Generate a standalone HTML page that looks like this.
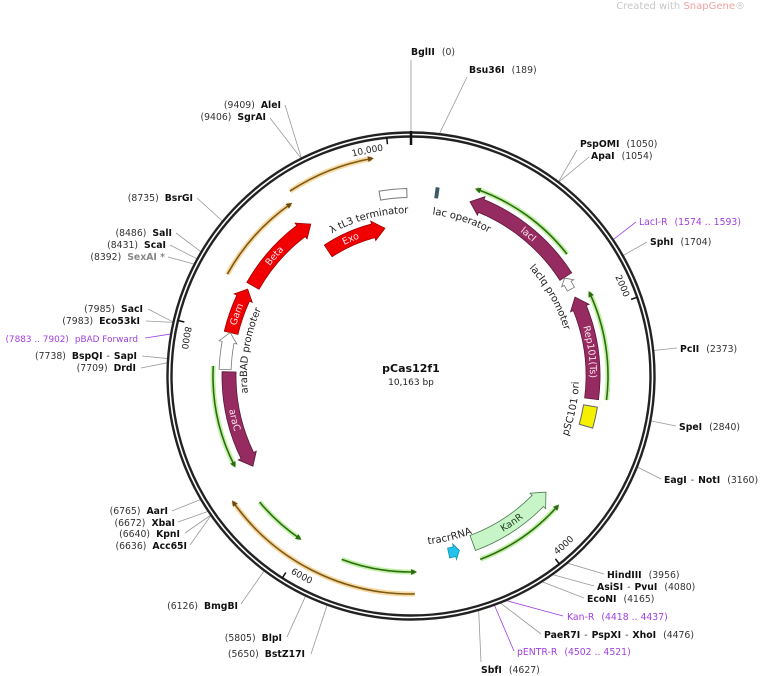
<!DOCTYPE html>
<html><head><meta charset="utf-8"><style>
html,body{margin:0;padding:0;background:#fff;}
svg{display:block;font-family:"DejaVu Sans","Liberation Sans",sans-serif;}
.n{font-weight:bold;fill:#111;font-size:9.3px}
.p{fill:#333;font-size:9.3px}
.pu{fill:#a040e0;font-size:9.3px}
.fl{font-size:10px;fill:#222}
.il{font-size:9.5px;fill:#ffe4ec}
</style></head><body>
<svg id="s" width="760" height="676" viewBox="0 0 760 676" xmlns="http://www.w3.org/2000/svg" xmlns:xlink="http://www.w3.org/1999/xlink">
<defs>
<marker id="mg" markerWidth="6" markerHeight="6" refX="4" refY="3" orient="auto" markerUnits="userSpaceOnUse"><path d="M0,0 L6,3 L0,6 z" fill="#2e6a10"/></marker>
<marker id="mo" markerWidth="6" markerHeight="6" refX="4" refY="3" orient="auto" markerUnits="userSpaceOnUse"><path d="M0,0 L6,3 L0,6 z" fill="#6a4a10"/></marker>
<path id="t_beta"/><path id="t_gam"/><path id="t_exo"/><path id="t_laci"/><path id="t_rep"/><path id="t_arac"/><path id="t_kanr"/>
<path id="t_ltl3"/><path id="t_lacop"/><path id="t_arabad"/><path id="t_laciq"/><path id="t_psc"/><path id="t_tracr"/>
<path id="k10"/><path id="k2"/><path id="k4"/><path id="k6"/><path id="k8"/>
</defs>
<g id="g"></g>
<text x="745" y="9" text-anchor="end" font-size="10" fill="#c8c8c8">Created with <tspan fill="#f0a0a0">SnapGene</tspan>®</text>

<text x="411" y="372" text-anchor="middle" font-weight="bold" font-size="11" fill="#111">pCas12f1</text>
<text x="411" y="385" text-anchor="middle" font-size="9" fill="#222">10,163 bp</text>

<text class="il" dominant-baseline="central"><textPath href="#t_beta" xlink:href="#t_beta" startOffset="50%" text-anchor="middle">Beta</textPath></text>
<text class="il" dominant-baseline="central"><textPath href="#t_gam" xlink:href="#t_gam" startOffset="50%" text-anchor="middle">Gam</textPath></text>
<text class="il" dominant-baseline="central"><textPath href="#t_exo" xlink:href="#t_exo" startOffset="50%" text-anchor="middle">Exo</textPath></text>
<text class="il" dominant-baseline="central"><textPath href="#t_laci" xlink:href="#t_laci" startOffset="50%" text-anchor="middle">lacI</textPath></text>
<text class="il" dominant-baseline="central"><textPath href="#t_rep" xlink:href="#t_rep" startOffset="50%" text-anchor="middle">Rep101(Ts)</textPath></text>
<text class="il" dominant-baseline="central"><textPath href="#t_arac" xlink:href="#t_arac" startOffset="50%" text-anchor="middle">araC</textPath></text>
<text class="il" dominant-baseline="central" style="fill:#1d4020"><textPath href="#t_kanr" xlink:href="#t_kanr" startOffset="50%" text-anchor="middle">KanR</textPath></text>
<text class="fl" dominant-baseline="central"><textPath href="#t_ltl3" xlink:href="#t_ltl3" startOffset="50%" text-anchor="middle">λ tL3 terminator</textPath></text>
<text class="fl" dominant-baseline="central"><textPath href="#t_lacop" xlink:href="#t_lacop" startOffset="50%" text-anchor="middle">lac operator</textPath></text>
<text class="fl" dominant-baseline="central"><textPath href="#t_arabad" xlink:href="#t_arabad" startOffset="50%" text-anchor="middle">araBAD promoter</textPath></text>
<text class="fl" dominant-baseline="central"><textPath href="#t_laciq" xlink:href="#t_laciq" startOffset="50%" text-anchor="middle">lacIq promoter</textPath></text>
<text class="fl" dominant-baseline="central"><textPath href="#t_psc" xlink:href="#t_psc" startOffset="50%" text-anchor="middle">pSC101 ori</textPath></text>
<text class="fl" dominant-baseline="central"><textPath href="#t_tracr" xlink:href="#t_tracr" startOffset="50%" text-anchor="middle">tracrRNA</textPath></text>
<text font-size="9" fill="#222" dominant-baseline="central"><textPath href="#k10" xlink:href="#k10" startOffset="100%" text-anchor="end">10,000</textPath></text>
<text font-size="9" fill="#222" dominant-baseline="central"><textPath href="#k2" xlink:href="#k2" startOffset="100%" text-anchor="end">2000</textPath></text>
<text font-size="9" fill="#222" dominant-baseline="central"><textPath href="#k4" xlink:href="#k4" startOffset="0%">4000</textPath></text>
<text font-size="9" fill="#222" dominant-baseline="central"><textPath href="#k6" xlink:href="#k6" startOffset="0%">6000</textPath></text>
<text font-size="9" fill="#222" dominant-baseline="central"><textPath href="#k8" xlink:href="#k8" startOffset="0%">8000</textPath></text>

<g>
<text x="411" y="55"><tspan class="n">BglII</tspan><tspan class="p" dx="7">(0)</tspan></text>
<text x="469" y="73"><tspan class="n">Bsu36I</tspan><tspan class="p" dx="7">(189)</tspan></text>
<text x="580" y="147"><tspan class="n">PspOMI</tspan><tspan class="p" dx="7">(1050)</tspan></text>
<text x="591" y="159"><tspan class="n">ApaI</tspan><tspan class="p" dx="7">(1054)</tspan></text>
<text x="639" y="225" class="pu">LacI-R<tspan dx="7">(1574 .. 1593)</tspan></text>
<text x="650" y="245"><tspan class="n">SphI</tspan><tspan class="p" dx="7">(1704)</tspan></text>
<text x="680" y="352"><tspan class="n">PcII</tspan><tspan class="p" dx="7">(2373)</tspan></text>
<text x="679" y="430"><tspan class="n">SpeI</tspan><tspan class="p" dx="7">(2840)</tspan></text>
<text x="664" y="483"><tspan class="n">EagI</tspan><tspan class="p" dx="4">-</tspan><tspan class="n" dx="4">NotI</tspan><tspan class="p" dx="7">(3160)</tspan></text>
<text x="607" y="578"><tspan class="n">HindIII</tspan><tspan class="p" dx="7">(3956)</tspan></text>
<text x="597" y="590"><tspan class="n">AsiSI</tspan><tspan class="p" dx="4">-</tspan><tspan class="n" dx="4">PvuI</tspan><tspan class="p" dx="7">(4080)</tspan></text>
<text x="587" y="602"><tspan class="n">EcoNI</tspan><tspan class="p" dx="7">(4165)</tspan></text>
<text x="567" y="620" class="pu">Kan-R<tspan dx="7">(4418 .. 4437)</tspan></text>
<text x="544" y="638"><tspan class="n">PaeR7I</tspan><tspan class="p" dx="4">-</tspan><tspan class="n" dx="4">PspXI</tspan><tspan class="p" dx="4">-</tspan><tspan class="n" dx="4">XhoI</tspan><tspan class="p" dx="7">(4476)</tspan></text>
<text x="517" y="655" class="pu">pENTR-R<tspan dx="7">(4502 .. 4521)</tspan></text>
<text x="481" y="673"><tspan class="n">SbfI</tspan><tspan class="p" dx="7">(4627)</tspan></text>
</g>
<g text-anchor="end">
<text x="281" y="108"><tspan class="p">(9409)</tspan><tspan class="n" dx="6">AleI</tspan></text>
<text x="266" y="120"><tspan class="p">(9406)</tspan><tspan class="n" dx="6">SgrAI</tspan></text>
<text x="193" y="201"><tspan class="p">(8735)</tspan><tspan class="n" dx="6">BsrGI</tspan></text>
<text x="172" y="236"><tspan class="p">(8486)</tspan><tspan class="n" dx="6">SalI</tspan></text>
<text x="166" y="248"><tspan class="p">(8431)</tspan><tspan class="n" dx="6">ScaI</tspan></text>
<text x="165" y="260"><tspan class="p">(8392)</tspan><tspan class="n" dx="6" style="fill:#888">SexAI *</tspan></text>
<text x="143" y="312"><tspan class="p">(7985)</tspan><tspan class="n" dx="6">SacI</tspan></text>
<text x="140" y="324"><tspan class="p">(7983)</tspan><tspan class="n" dx="6">Eco53kI</tspan></text>
<text x="138" y="342" class="pu" style="font-size:8.9px">(7883 .. 7902)<tspan dx="6">pBAD Forward</tspan></text>
<text x="137" y="359"><tspan class="p">(7738)</tspan><tspan class="n" dx="6">BspQI</tspan><tspan class="p" dx="4">-</tspan><tspan class="n" dx="4">SapI</tspan></text>
<text x="136" y="371"><tspan class="p">(7709)</tspan><tspan class="n" dx="6">DrdI</tspan></text>
<text x="168" y="514"><tspan class="p">(6765)</tspan><tspan class="n" dx="6">AarI</tspan></text>
<text x="175" y="526"><tspan class="p">(6672)</tspan><tspan class="n" dx="6">XbaI</tspan></text>
<text x="180" y="537"><tspan class="p">(6640)</tspan><tspan class="n" dx="6">KpnI</tspan></text>
<text x="187" y="549"><tspan class="p">(6636)</tspan><tspan class="n" dx="6">Acc65I</tspan></text>
<text x="238" y="609"><tspan class="p">(6126)</tspan><tspan class="n" dx="6">BmgBI</tspan></text>
<text x="282" y="641"><tspan class="p">(5805)</tspan><tspan class="n" dx="6">BlpI</tspan></text>
<text x="305" y="657"><tspan class="p">(5650)</tspan><tspan class="n" dx="6">BstZ17I</tspan></text>
</g>

<script>
(function(){
var cx=411,cy=376,NS="http://www.w3.org/2000/svg";
function pt(r,a){var t=a*Math.PI/180;return [(cx+r*Math.sin(t)).toFixed(2),(cy-r*Math.cos(t)).toFixed(2)];}
function arc(r,a1,a2){var p1=pt(r,a1),p2=pt(r,a2),sw=a2>a1?1:0,lg=Math.abs(a2-a1)>180?1:0;
 return "M"+p1+" A"+r+" "+r+" 0 "+lg+" "+sw+" "+p2;}
function arcTo(r,a1,a2){var p2=pt(r,a2),sw=a2>a1?1:0,lg=Math.abs(a2-a1)>180?1:0;return " A"+r+" "+r+" 0 "+lg+" "+sw+" "+p2;}
var g=document.getElementById("g");
function add(tag,at){var e=document.createElementNS(NS,tag);for(var k in at)e.setAttribute(k,at[k]);g.appendChild(e);return e;}
function arrow(r,w,a1,a2,fill,stroke,head){
 head=head===undefined?12:head;var d=a2>a1?1:-1,h=head/r*180/Math.PI;if(h>Math.abs(a2-a1))h=Math.abs(a2-a1);
 var ab=a2-d*h,ro=r+w/2,ri=r-w/2;
 var s="M"+pt(ro,a1)+arcTo(ro,a1,ab)+" L"+pt(ro+3,ab)+" L"+pt(r,a2)+" L"+pt(ri-3,ab)+" L"+pt(ri,ab)+arcTo(ri,ab,a1)+" Z";
 add("path",{d:s,fill:fill,stroke:stroke,"stroke-width":0.8});}
function box(r,w,a1,a2,fill,stroke){var ro=r+w/2,ri=r-w/2;
 add("path",{d:"M"+pt(ro,a1)+arcTo(ro,a1,a2)+" L"+pt(ri,a2)+arcTo(ri,a2,a1)+" Z",fill:fill,stroke:stroke,"stroke-width":1});}
function line(r,a1,a2,c,glow,m){add("path",{d:arc(r,a1,a2),fill:"none",stroke:glow,"stroke-width":5,"stroke-opacity":0.55});
 add("path",{d:arc(r,a1,a2),fill:"none",stroke:c,"stroke-width":1.6,"marker-end":"url(#"+m+")"});}
function lead(a,x,y,c){var p=pt(244,a);add("line",{x1:p[0],y1:p[1],x2:x,y2:y,stroke:c||"#999","stroke-width":0.8});}

add("line",{x1:411,y1:133,x2:411,y2:60,stroke:"#999","stroke-width":0.8});
var L=[[6.7,467,77],[37.2,577,150],[37.3,589,157],[60.4,647,242],[84,677,348],[100.6,676,426],[111.9,661,479],
[140.1,604,574],[144.5,594,586],[147.5,584,598],[158.5,541,634],[163.9,481,662],
[333.3,285,105],[333.2,270,118],[309.4,197,198],[300.6,176,233],[298.7,170,245],[297.3,168,257],
[282.8,148,309],[282.7,146,321],[274.1,142,356],[273.1,141,368],[239.6,172,511],[236.3,178,522],[235.2,185,533],[235.1,190,545],
[217,241,604],[205.6,287,637],[200.1,311,654]];
L.forEach(function(l){lead(l[0],l[1],l[2]);});
lead(56,636,222,"#a040e0");lead(157,563,616,"#a040e0");lead(160,514,651,"#a040e0");lead(279.9,145,338,"#a040e0");

add("circle",{cx:cx,cy:cy,r:243.5,fill:"none",stroke:"#222","stroke-width":2.4});
add("circle",{cx:cx,cy:cy,r:239.5,fill:"none",stroke:"#222","stroke-width":2.4});
var p1=pt(231,0),p2=pt(245,0);add("line",{x1:p1[0],y1:p1[1],x2:p2[0],y2:p2[1],stroke:"#111","stroke-width":2.5});
[354.2,70.8,141.7,212.5,283.4].forEach(function(a){var a1=pt(233,a),a2=pt(240,a);add("line",{x1:a1[0],y1:a1[1],x2:a2[0],y2:a2[1],stroke:"#111","stroke-width":1.5});});

line(221,326.8,349.8,"#7a5a18","#f2b850","mo");
line(210,299,325,"#7a5a18","#f2b850","mo");
line(218,179,234.7,"#7a5a18","#f2b850","mo");
line(198,52,19.4,"#2e6a10","#8fe860","mg");
line(197,97,65,"#2e6a10","#8fe860","mg");
line(198,272.9,243,"#2e6a10","#8fe860","mg");
line(196,159.3,131.5,"#2e6a10","#8fe860","mg");
line(197,230.2,214.3,"#2e6a10","#8fe860","mg");
line(196,200.7,178.8,"#2e6a10","#8fe860","mg");

var red="#f00000",rs="#a00000",mar="#952b60",ms="#5a1838";
arrow(182,14,299.7,326.6,red,rs);
arrow(185,14,283.5,298,red,rs,10);
arrow(150,14,326.5,350,red,rs);
arrow(186,12,272,283.5,"#fff","#777",10);
arrow(182,14,271.3,240.3,mar,ms);
arrow(184,14,57.3,18.7,mar,ms);
arrow(182,8,61.5,57.5,"#fff","#777",6);
arrow(182,14,97.2,64.3,mar,ms);
box(182,14,99.5,106,"#f4f000","#666");
arrow(178,16,159.7,130.7,"#c8f5c8","#4a7a50");
arrow(181,10,168,164.5,"#22c4ee","#1090b0",5);
box(185,10,7.6,8.5,"#3d5a64","#3d5a64");
box(183,9,350.2,358.7,"#fff","#777");

function tp(id,r,a1,a2){document.getElementById(id).setAttribute("d",arc(r,a1,a2));}
tp("t_beta",182,299.7,323);tp("t_gam",185,283.5,295.5);tp("t_exo",150,326.5,346);
tp("t_laci",184,22,57.3);tp("t_rep",182,67.5,97.2);tp("t_arac",182,268,244);tp("t_kanr",178,157,134);
tp("t_ltl3",166,325,365);tp("t_lacop",166,0,36);tp("t_arabad",167,255,303);tp("t_laciq",163,38,83);
tp("t_psc",165,125,78);tp("t_tracr",166,180,153);
tp("k10",229,330,353);tp("k2",229,50,69.8);tp("k4",229,140.8,120);tp("k6",229,211.5,190);tp("k8",229,282.5,260);
})();
</script>
</svg>
</body></html>
